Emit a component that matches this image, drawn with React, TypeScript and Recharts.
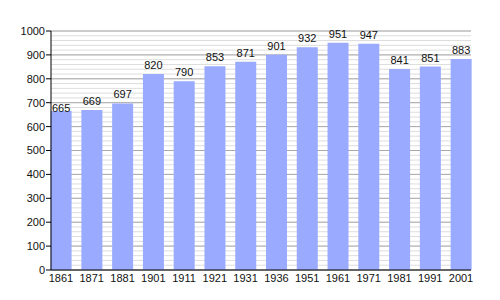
import React from "react";
import {
  BarChart,
  Bar,
  XAxis,
  YAxis,
  CartesianGrid,
  LabelList,
} from "recharts";

const YEARS = ["1861", "1871", "1881", "1901", "1911", "1921", "1931", "1936", "1951", "1961", "1971", "1981", "1991", "2001"];
const POPULATION = [665, 669, 697, 820, 790, 853, 871, 901, 932, 951, 947, 841, 851, 883];
const MAJOR_TICKS = [0, 100, 200, 300, 400, 500, 600, 700, 800, 900, 1000];
// minor ticks every 20 (no labels)
const MINOR_TICKS = Array.from({ length: 51 }, (_, i) => i * 20);

const FONT = "'Liberation Sans', Arial, sans-serif";

const data = YEARS.map((year, i) => ({ year, value: POPULATION[i] }));

const renderValueLabel = (props: any) => {
  const { x, y, width, value, index } = props;
  // the first label sits lower, next to the 700 tick label in the original
  const shift = index === 0 ? 6 : 0;
  return (
    <text
      x={Number(x) + Number(width) / 2}
      y={Number(y) - 5 + shift}
      textAnchor="middle"
      fontSize={11}
      fontFamily={FONT}
      fill="#111"
    >
      {value}
    </text>
  );
};

const noLabel = () => <g />;

export default function App() {
  return (
    <div style={{ position: "absolute", left: 0, top: 0, width: 500, height: 300, background: "#fff" }}>
      <BarChart
        width={500}
        height={300}
        data={data}
        margin={{ top: 31, right: 29, left: 0, bottom: 0 }}
        barSize={21}
      >
        <CartesianGrid
          vertical={false}
          horizontalValues={MINOR_TICKS}
          stroke="#dddddd"
          strokeWidth={1}
        />
        <CartesianGrid
          vertical={false}
          horizontalValues={MAJOR_TICKS}
          stroke="#aaaaaa"
          strokeWidth={1}
        />
        <XAxis
          dataKey="year"
          padding={{ left: -5.4, right: -5.4 }}
          axisLine={{ stroke: "#000" }}
          tickLine={false}
          tickSize={0}
          tickMargin={4}
          height={30}
          interval={0}
          tick={{ fontSize: 11, fill: "#111", fontFamily: FONT }}
        />
        <YAxis
          yAxisId="minor"
          domain={[0, 1000]}
          ticks={MINOR_TICKS}
          interval={0}
          width={0}
          tick={noLabel}
          tickSize={2}
          axisLine={false}
          tickLine={{ stroke: "#000" }}
        />
        <YAxis
          domain={[0, 1000]}
          ticks={MAJOR_TICKS}
          width={51}
          interval={0}
          tickSize={5}
          tickMargin={1}
          axisLine={{ stroke: "#000" }}
          tickLine={{ stroke: "#000" }}
          tick={{ fontSize: 11, fill: "#111", fontFamily: FONT }}
        />
        <Bar dataKey="value" fill="#99aaff" isAnimationActive={false}>
          <LabelList dataKey="value" content={renderValueLabel} />
        </Bar>
      </BarChart>
    </div>
  );
}
